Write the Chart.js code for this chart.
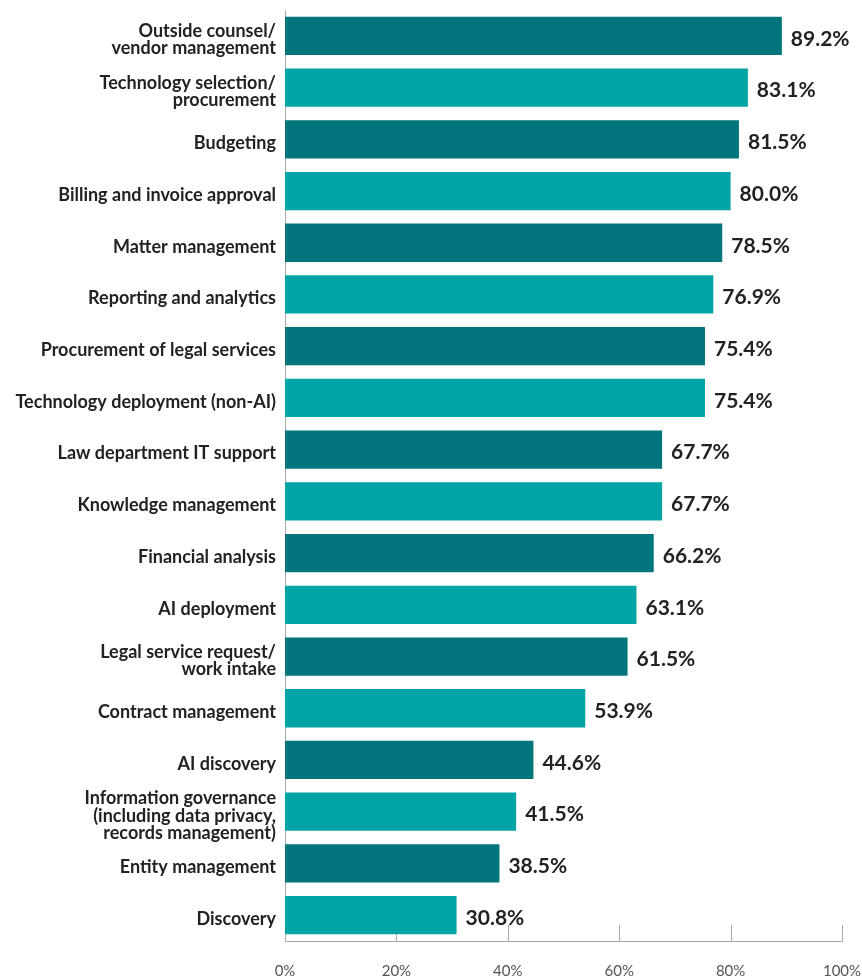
<!DOCTYPE html>
<html>
<head>
<meta charset="utf-8">
<script src="https://cdn.jsdelivr.net/npm/chart.js@4/dist/chart.umd.min.js"></script>
<style>
  html, body { margin: 0; padding: 0; background: #ffffff; }
  #wrap { width: 862px; height: 977px; position: relative; }
</style>
</head>
<body>
<div id="wrap"><canvas id="chart" width="862" height="977"></canvas></div>
<script>
// Responsibilities handled, share of respondents
const categories = [
  ["Outside counsel/", "vendor management"],
  ["Technology selection/", "procurement"],
  "Budgeting",
  "Billing and invoice approval",
  "Matter management",
  "Reporting and analytics",
  "Procurement of legal services",
  "Technology deployment (non-AI)",
  "Law department IT support",
  "Knowledge management",
  "Financial analysis",
  "AI deployment",
  ["Legal service request/", "work intake"],
  "Contract management",
  "AI discovery",
  ["Information governance", "(including data privacy,", "records management)"],
  "Entity management",
  "Discovery"
];
const values = [89.2, 83.1, 81.5, 80.0, 78.5, 76.9, 75.4, 75.4, 67.7, 67.7, 66.2, 63.1, 61.5, 53.9, 44.6, 41.5, 38.5, 30.8];
const xTicks = [0, 20, 40, 60, 80, 100];

const DARK = '#00767c';
const LIGHT = '#00a3a6';
const barColors = values.map((_, i) => (i % 2 === 0 ? DARK : LIGHT));

const FONT = "'Source Sans Pro', 'Lato', 'Noto Sans', sans-serif";

// Short upward tick marks sitting on the x axis, behind the bars
const axisMarks = {
  id: 'axisMarks',
  beforeDatasetsDraw(chart) {
    const { ctx, chartArea, scales: { x } } = chart;
    ctx.save();
    ctx.strokeStyle = '#a8a8a8';
    ctx.lineWidth = 1;
    xTicks.forEach(v => {
      if (v === 0) return;
      const px = Math.round(x.getPixelForValue(v)) + 0.5;
      ctx.beginPath();
      ctx.moveTo(px, chartArea.bottom);
      ctx.lineTo(px, chartArea.bottom - 16);
      ctx.stroke();
    });
    ctx.restore();
  }
};

// Percentage labels to the right of each bar
const valueLabels = {
  id: 'valueLabels',
  afterDatasetsDraw(chart) {
    const { ctx } = chart;
    const meta = chart.getDatasetMeta(0);
    ctx.save();
    ctx.fillStyle = '#222222';
    ctx.font = "bold 21px " + FONT;
    ctx.textAlign = 'left';
    ctx.textBaseline = 'middle';
    meta.data.forEach((bar, i) => {
      ctx.fillText(values[i].toFixed(1) + '%', bar.x + 9, bar.y + 3);
    });
    ctx.restore();
  }
};

new Chart(document.getElementById('chart'), {
  type: 'bar',
  data: {
    labels: categories,
    datasets: [{
      data: values,
      backgroundColor: barColors,
      borderWidth: 0,
      barPercentage: 0.74,
      categoryPercentage: 1.0
    }]
  },
  options: {
    indexAxis: 'y',
    responsive: false,
    animation: false,
    layout: { padding: { top: 10, right: 20, bottom: 0, left: 0 } },
    plugins: {
      legend: { display: false },
      tooltip: { enabled: false }
    },
    scales: {
      x: {
        min: 0,
        max: 100,
        afterBuildTicks(scale) {
          scale.ticks = xTicks.map(v => ({ value: v }));
        },
        grid: { display: false, drawTicks: false },
        border: { display: true, color: '#a8a8a8', width: 1 },
        ticks: {
          padding: 21,
          color: '#555555',
          font: { family: FONT, size: 15 },
          callback: v => v + '%',
          maxRotation: 0
        },
        afterFit(scale) {
          scale.height = 36;
          scale.paddingLeft = 0;
          scale.paddingRight = 0;
        }
      },
      y: {
        grid: { display: false, drawTicks: false },
        border: { display: true, color: '#a8a8a8', width: 1 },
        ticks: {
          padding: 9,
          labelOffset: 4,
          color: '#222222',
          font: { family: FONT, size: 18, weight: 'bold', lineHeight: 0.98 },
          autoSkip: false
        },
        afterFit(scale) {
          scale.width = 285;
          scale.paddingTop = 0;
          scale.paddingBottom = 0;
        }
      }
    }
  },
  plugins: [axisMarks, valueLabels]
});
</script>
</body>
</html>
